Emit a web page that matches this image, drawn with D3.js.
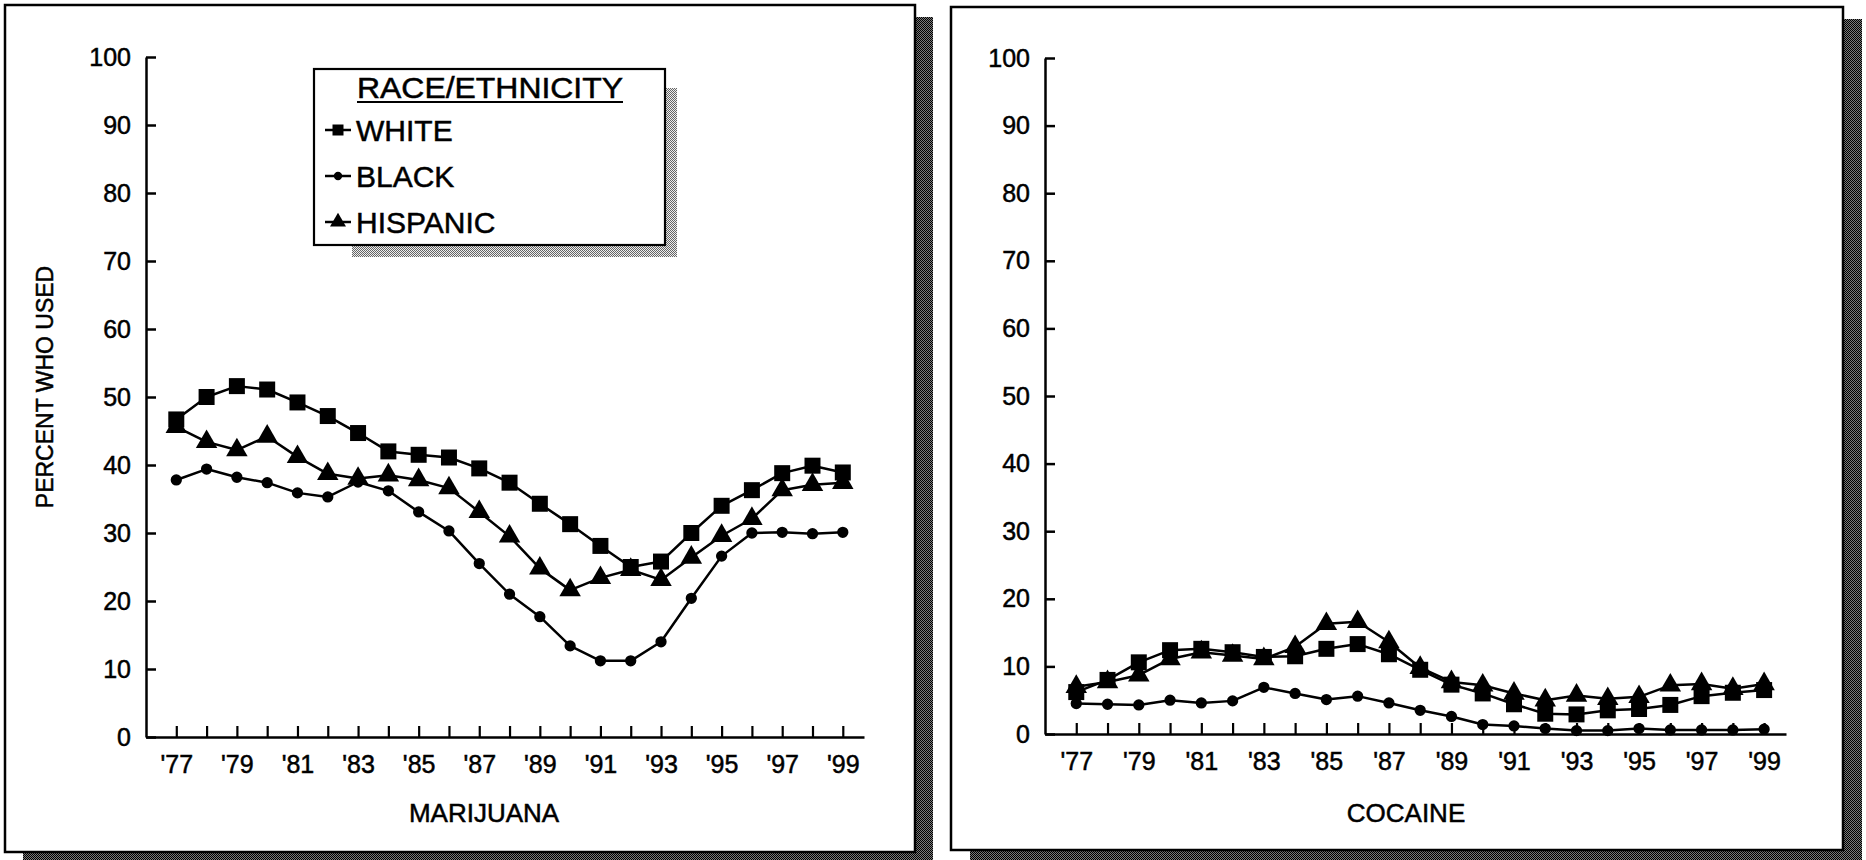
<!DOCTYPE html>
<html><head><meta charset="utf-8">
<script src="https://cdn.jsdelivr.net/npm/d3@7"></script>
<style>
html,body{margin:0;padding:0;background:#fff;}
svg{display:block;}
text{font-family:"Liberation Sans",Arial,Helvetica,sans-serif;fill:#000;stroke:#000;stroke-width:0.5px;}
</style>
</head><body>
<svg id="c" width="1866" height="860"></svg>
<script>
// ---------------- data ----------------
const years = [1977,1978,1979,1980,1981,1982,1983,1984,1985,1986,1987,1988,1989,1990,1991,1992,1993,1994,1995,1996,1997,1998,1999];
const labelYears = [1977,1979,1981,1983,1985,1987,1989,1991,1993,1995,1997,1999];
const yearTickLabels = ["'77","'79","'81","'83","'85","'87","'89","'91","'93","'95","'97","'99"];
const yTicks = [0,10,20,30,40,50,60,70,80,90,100];
const seriesNames = ["WHITE","BLACK","HISPANIC"];
const panelTitles = ["MARIJUANA","COCAINE"];
const yAxisTitle = "PERCENT WHO USED";
const legendTitle = "RACE/ETHNICITY";

const marijuanaWhite    = [46.7,50.0,51.6,51.1,49.2,47.2,44.7,42.0,41.5,41.1,39.5,37.4,34.3,31.3,28.1,25.0,25.8,30.0,34.0,36.3,38.8,39.9,38.9];
const marijuanaBlack    = [37.8,39.4,38.2,37.4,35.9,35.3,37.5,36.2,33.1,30.3,25.5,21.0,17.7,13.4,11.2,11.2,14.0,20.4,26.6,30.0,30.1,29.9,30.1];
const marijuanaHispanic = [45.6,43.4,42.2,44.2,41.2,38.7,38.0,38.5,37.8,36.6,33.1,29.5,24.8,21.6,23.4,24.6,23.1,26.4,29.6,32.1,36.3,37.1,37.4];

const cocaineWhite    = [6.2,8.0,10.6,12.4,12.6,12.1,11.4,11.5,12.6,13.3,11.8,9.5,7.3,6.0,4.4,3.0,2.9,3.5,3.7,4.3,5.6,6.1,6.5];
const cocaineBlack    = [4.5,4.4,4.3,5.0,4.6,4.9,6.9,6.0,5.1,5.6,4.6,3.5,2.6,1.4,1.2,0.8,0.5,0.5,0.8,0.6,0.6,0.6,0.7];
const cocaineHispanic = [7.0,7.7,8.7,11.1,12.1,11.6,11.1,12.9,16.3,16.6,13.6,9.8,7.7,7.2,6.0,5.0,5.7,5.2,5.5,7.2,7.4,6.7,7.4];

// ---------------- drawing ----------------
const svg = d3.select("#c");
const defs = svg.append("defs");
function checker(id, dark, light){
  const p = defs.append("pattern").attr("id", id).attr("width", 2).attr("height", 2)
    .attr("patternUnits", "userSpaceOnUse");
  p.append("rect").attr("width", 2).attr("height", 2).attr("fill", light);
  p.append("rect").attr("x", 0).attr("y", 0).attr("width", 1).attr("height", 1).attr("fill", dark);
  p.append("rect").attr("x", 1).attr("y", 1).attr("width", 1).attr("height", 1).attr("fill", dark);
}
checker("darkShade", "#000", "#7a7a7a");
checker("lightShade", "#666", "#eeeeee");

const symbolTypes = {WHITE: d3.symbolSquare, BLACK: d3.symbolCircle, HISPANIC: d3.symbolTriangle};
const symbolSizes = {WHITE: 256, BLACK: 100, HISPANIC: 200};
const legendSizes = {WHITE: 121, BLACK: 55, HISPANIC: 110};

const panels = [
  {title: panelTitles[0], series: [marijuanaWhite, marijuanaBlack, marijuanaHispanic],
   frame: {x: 5, y: 5, w: 910, h: 847}, shadow: {dx: 18, dy: 12},
   xr: [146, 864], yr: [737, 57], titleX: 484, titleY: 813, yTitle: true, legend: true},
  {title: panelTitles[1], series: [cocaineWhite, cocaineBlack, cocaineHispanic],
   frame: {x: 951, y: 7, w: 892, h: 843}, shadow: {dx: 19, dy: 12},
   xr: [1045, 1786], yr: [734, 58], titleX: 1406, titleY: 813, yTitle: false, legend: false}
];

panels.forEach(p => {
  const g = svg.append("g");
  // shadow + frame
  g.append("rect").attr("x", p.frame.x + p.shadow.dx).attr("y", p.frame.y + p.shadow.dy)
    .attr("width", p.frame.w).attr("height", p.frame.h).attr("fill", "url(#darkShade)");
  g.append("rect").attr("x", p.frame.x).attr("y", p.frame.y)
    .attr("width", p.frame.w).attr("height", p.frame.h)
    .attr("fill", "#fff").attr("stroke", "#000").attr("stroke-width", 2.5);

  const x = d3.scaleLinear().domain([1976, 1999.7]).range(p.xr);
  const y = d3.scaleLinear().domain([0, 100]).range(p.yr);

  // y axis
  const ya = g.append("g").attr("transform", `translate(${p.xr[0]},0)`)
    .call(d3.axisLeft(y).tickValues(yTicks).tickSizeInner(-10).tickSizeOuter(0).tickPadding(15));
  ya.select(".domain").attr("stroke-width", 2.5);
  ya.selectAll(".tick line").attr("stroke-width", 2.5);
  ya.selectAll(".tick text").attr("font-size", 25).attr("font-family", null);

  // x axis
  const xa = g.append("g").attr("transform", `translate(0,${p.yr[0]})`)
    .call(d3.axisBottom(x).tickValues(years).tickSizeInner(-11).tickSizeOuter(0).tickPadding(18)
      .tickFormat(d => { const i = labelYears.indexOf(d); return i >= 0 ? yearTickLabels[i] : ""; }));
  xa.select(".domain").attr("stroke-width", 2.5);
  xa.selectAll(".tick line").attr("stroke-width", 2.2);
  xa.selectAll(".tick text").attr("font-size", 25).attr("font-family", null);

  // titles
  g.append("text").attr("x", p.titleX).attr("y", p.titleY).attr("text-anchor", "middle")
    .attr("dominant-baseline", "central").attr("font-size", 26).text(p.title);
  if (p.yTitle) {
    g.append("text").attr("transform", "translate(45,387) rotate(-90)").attr("text-anchor", "middle")
      .attr("dominant-baseline", "central").attr("font-size", 23).text(yAxisTitle);
  }

  // lines
  const line = d3.line().x((d, i) => x(years[i])).y(d => y(d));
  p.series.forEach((vals, si) => {
    g.append("path").datum(vals).attr("d", line).attr("fill", "none")
      .attr("stroke", "#000").attr("stroke-width", 2.5).attr("stroke-linejoin", "round");
  });
  // markers
  p.series.forEach((vals, si) => {
    const name = seriesNames[si];
    const sym = d3.symbol().type(symbolTypes[name]).size(symbolSizes[name]);
    g.append("g").selectAll("path").data(vals).join("path")
      .attr("transform", (d, i) => `translate(${x(years[i])},${y(d)})`)
      .attr("d", sym).attr("fill", "#000");
  });

  // legend
  if (p.legend) {
    const L = {x: 314, y: 69, w: 351, h: 176};
    const lg = g.append("g");
    lg.append("rect").attr("x", 352).attr("y", 88).attr("width", 325).attr("height", 169)
      .attr("fill", "url(#lightShade)");
    lg.append("rect").attr("x", L.x).attr("y", L.y).attr("width", L.w).attr("height", L.h)
      .attr("fill", "#fff").attr("stroke", "#000").attr("stroke-width", 2.2);
    lg.append("text").attr("x", 490).attr("y", 88).attr("text-anchor", "middle")
      .attr("dominant-baseline", "central").attr("font-size", 29)
      .attr("textLength", 266).attr("lengthAdjust", "spacingAndGlyphs").text(legendTitle);
    lg.append("line").attr("x1", 357).attr("x2", 623).attr("y1", 102).attr("y2", 102)
      .attr("stroke", "#000").attr("stroke-width", 2);
    const rowsY = [130, 176, 222];
    seriesNames.forEach((name, i) => {
      const cy = rowsY[i];
      lg.append("line").attr("x1", 325).attr("x2", 351).attr("y1", cy).attr("y2", cy)
        .attr("stroke", "#000").attr("stroke-width", 2.5);
      lg.append("path").attr("transform", `translate(338,${cy})`)
        .attr("d", d3.symbol().type(symbolTypes[name]).size(legendSizes[name])).attr("fill", "#000");
      lg.append("text").attr("x", 356).attr("y", cy).attr("dominant-baseline", "central")
        .attr("font-size", 30).text(name);
    });
  }
});
</script>
</body></html>
